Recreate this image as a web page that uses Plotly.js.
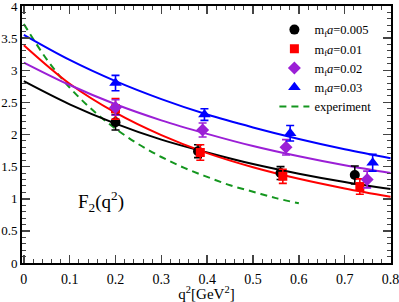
<!DOCTYPE html>
<html><head><meta charset="utf-8">
<script src="https://cdn.plot.ly/plotly-3.0.1.min.js"></script>
<style>html,body{margin:0;padding:0;background:#fff}#c{width:399px;height:302px}</style>
</head><body><div id="c"></div>
<script>
// Fit curves
var curveQ = [0, 0.1, 0.2, 0.3, 0.4, 0.5, 0.6, 0.7, 0.8];
var fit005 = [2.83, 2.47, 2.17, 1.92, 1.72, 1.54, 1.39, 1.26, 1.15];
var fit01  = [3.39, 2.79, 2.34, 1.99, 1.71, 1.49, 1.31, 1.16, 1.03];
var fit02  = [3.12, 2.77, 2.47, 2.22, 2.01, 1.82, 1.66, 1.52, 1.40];
var fit03  = [3.55, 3.16, 2.83, 2.55, 2.31, 2.11, 1.93, 1.77, 1.63];
// Experiment (dashed)
var expQ = [0, 0.05, 0.1, 0.15, 0.2, 0.25, 0.3, 0.35, 0.4, 0.45, 0.5, 0.55, 0.6];
var expF = [3.72, 3.17, 2.73, 2.38, 2.09, 1.85, 1.65, 1.48, 1.34, 1.21, 1.11, 1.01, 0.93];
// Lattice points
var q005 = [0.2, 0.38, 0.56, 0.722], f005 = [2.19, 1.74, 1.40, 1.37], e005 = [0.12, 0.10, 0.10, 0.14];
var q01  = [0.2, 0.385, 0.565, 0.733], f01 = [2.40, 1.72, 1.35, 1.19], e01 = [0.16, 0.12, 0.11, 0.12];
var q02  = [0.2, 0.39, 0.572, 0.749], f02 = [2.42, 2.07, 1.80, 1.30], e02 = [0.12, 0.11, 0.12, 0.13];
var q03  = [0.2, 0.394, 0.581, 0.761], f03 = [2.80, 2.31, 2.02, 1.56], e03 = [0.12, 0.09, 0.12, 0.13];
var names = ['m<sub>f</sub><i>a</i>=0.005', 'm<sub>f</sub><i>a</i>=0.01', 'm<sub>f</sub><i>a</i>=0.02', 'm<sub>f</sub><i>a</i>=0.03', 'experiment'];
var xTicks = [0, 0.1, 0.2, 0.3, 0.4, 0.5, 0.6, 0.7, 0.8];
var xTickText = ['0', '0.1', '0.2', '0.3', '0.4', '0.5', '0.6', '0.7', '0.8'];
var yTicks = [0, 0.5, 1, 1.5, 2, 2.5, 3, 3.5, 4];
var yTickText = ['0', '0.5', '1', '1.5', '2', '2.5', '3', '3.5', '4'];

var cBlack = '#000000', cRed = '#ff0000', cPur = '#9b1fd6', cBlue = '#0000ff', cGreen = '#14961e';

function curve(y, col) {
  return {x: curveQ, y: y, mode: 'lines', line: {color: col, width: 2, shape: 'spline'}, showlegend: false, hoverinfo: 'skip'};
}
function pts(x, y, e, col, sym, sz, nm, rank) {
  return {x: x, y: y, mode: 'markers', name: nm, legendrank: rank,
    marker: {color: col, symbol: sym, size: sz},
    error_y: {type: 'data', array: e, visible: true, color: col, thickness: 1.6, width: 4}};
}
var data = [
  {x: expQ, y: expF, mode: 'lines', name: names[4], legendrank: 5, line: {color: cGreen, width: 2, dash: '7px,5px', shape: 'spline'}},
  curve(fit005, cBlack), curve(fit01, cRed), curve(fit02, cPur), curve(fit03, cBlue),
  pts(q005, f005, e005, cBlack, 'circle', 10, names[0], 1),
  pts(q01, f01, e01, cRed, 'square', 9, names[1], 2),
  pts(q02, f02, e02, cPur, 'diamond', 10, names[2], 3),
  pts(q03, f03, e03, cBlue, 'triangle-up', 11, names[3], 4)
];
var fam = '"Liberation Serif", "DejaVu Serif", serif';
var tickFont = {family: fam, size: 14, color: '#000'};
var yTickFont = {family: fam, size: 13, color: '#000'};
var layout = {
  width: 399, height: 302,
  margin: {l: 22, r: 8, t: 6, b: 39, pad: 0},
  paper_bgcolor: '#fff', plot_bgcolor: '#fff',
  font: tickFont, showlegend: true,
  legend: {x: 0.684, y: 0.965, xanchor: 'left', yanchor: 'top', bgcolor: 'rgba(0,0,0,0)',
    font: {family: fam, size: 12.5, color: '#000'}, tracegroupgap: 0, itemwidth: 30},
  xaxis: {range: [-0.004, 0.801], tickvals: xTicks, ticktext: xTickText,
    ticks: 'inside', ticklen: 8, tickwidth: 1.5, mirror: 'allticks', showline: true, linewidth: 2, linecolor: '#000',
    showgrid: false, zeroline: false, tickfont: tickFont, ticklabelstandoff: 2, ticklabeloverflow: 'allow',
    minor: {dtick: 0.02, tick0: 0, ticks: 'inside', ticklen: 4, tickwidth: 1, showgrid: false},
    title: {text: 'q<sup>2</sup>[GeV<sup>2</sup>]', font: {family: fam, size: 15}, standoff: 2}},
  yaxis: {range: [0, 4], tickvals: yTicks, ticktext: yTickText,
    ticks: 'inside', ticklen: 8, tickwidth: 1.5, mirror: 'allticks', showline: true, linewidth: 2, linecolor: '#000',
    showgrid: false, zeroline: false, tickfont: yTickFont, ticklabeloverflow: 'allow', ticklabelstandoff: 0,
    minor: {dtick: 0.1, tick0: 0, ticks: 'inside', ticklen: 4, tickwidth: 1, showgrid: false}},
  annotations: [{x: 0.168, y: 0.95, xref: 'x', yref: 'y', showarrow: false,
    text: 'F<sub>2</sub>(q<sup>2</sup>)', font: {family: fam, size: 19, color: '#000'}}]
};
Plotly.newPlot('c', data, layout, {staticPlot: true});
</script></body></html>
